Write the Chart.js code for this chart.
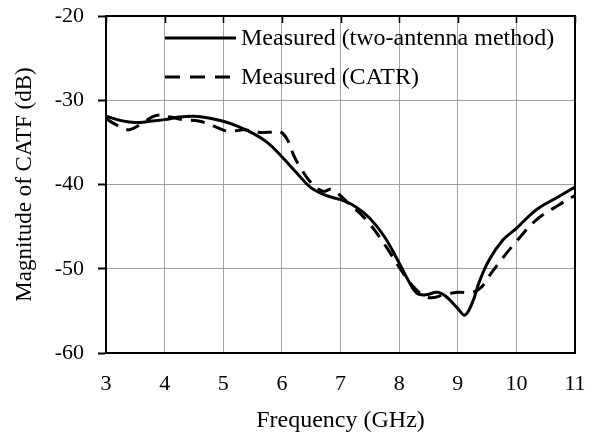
<!DOCTYPE html>
<html>
<head>
<meta charset="utf-8">
<script src="https://cdn.jsdelivr.net/npm/chart.js@4.4.1/dist/chart.umd.min.js"></script>
<style>
  html, body { margin: 0; padding: 0; background: #fff; }
  #wrap { width: 595px; height: 438px; }
</style>
</head>
<body>
<div id="wrap"><canvas id="catfChart" width="595" height="438"></canvas></div>
<script>
// Measured (two-antenna method)
var freqTwoAnt = [3.0, 3.25, 3.5, 3.75, 4.0, 4.25, 4.5, 4.75, 5.0, 5.25, 5.5, 5.75, 6.0, 6.25, 6.5, 6.75, 7.0, 7.25, 7.5, 7.75, 8.0, 8.15, 8.3, 8.45, 8.65, 8.8, 9.0, 9.12, 9.25, 9.37, 9.54, 9.77, 10.0, 10.34, 10.68, 11.0];
var magTwoAnt = [-31.9, -32.4, -32.65, -32.5, -32.3, -32.0, -31.9, -32.1, -32.5, -33.1, -33.9, -35.0, -36.7, -38.6, -40.4, -41.3, -41.8, -42.6, -44.0, -46.2, -49.3, -51.3, -52.9, -53.1, -52.8, -53.3, -54.7, -55.5, -54.0, -51.5, -48.9, -46.6, -45.2, -43.0, -41.6, -40.3];

// Measured (CATR)
var freqCatr = [3.0, 3.2, 3.4, 3.6, 3.85, 4.1, 4.3, 4.6, 4.85, 5.1, 5.35, 5.6, 5.8, 5.96, 6.08, 6.2, 6.3, 6.5, 6.7, 6.85, 7.1, 7.44, 7.78, 8.0, 8.24, 8.45, 8.6, 8.75, 9.0, 9.25, 9.4, 9.51, 9.77, 10.02, 10.34, 10.73, 11.0];
var magCatr = [-32.2, -33.0, -33.5, -32.8, -31.8, -32.0, -32.3, -32.5, -33.1, -33.7, -33.5, -33.8, -33.8, -33.7, -34.5, -36.5, -37.8, -39.8, -40.8, -40.6, -42.0, -44.2, -47.4, -49.8, -52.1, -53.3, -53.4, -53.1, -52.8, -52.8, -52.2, -51.1, -48.7, -46.6, -44.2, -42.4, -41.3];

var xTicks = [3, 4, 5, 6, 7, 8, 9, 10, 11];
var yTicks = [-60, -50, -40, -30, -20];

var FONT = "'Liberation Serif', 'Times New Roman', serif";

function toPoints(xs, ys) {
	var pts = [];
	for (var i = 0; i < xs.length; i++) {
		pts.push({ x: xs[i], y: ys[i] });
	}
	return pts;
}

// frame, top tick marks and the in-plot legend
var framePlugin = {
	id: 'frame',
	afterDraw: function (chart) {
		var c = chart.ctx;
		var a = chart.chartArea;
		var xs = chart.scales.x;
		c.save();
		c.strokeStyle = '#000';
		c.lineWidth = 2;
		c.strokeRect(a.left, a.top, a.right - a.left, a.bottom - a.top);
		c.lineWidth = 1.5;
		for (var i = 0; i < xTicks.length; i++) {
			var px = Math.round(xs.getPixelForValue(xTicks[i])) + 0.5;
			c.beginPath();
			c.moveTo(px, a.top);
			c.lineTo(px, a.top + 7);
			c.stroke();
		}
		// legend
		var rows = [38, 77];
		c.font = '24px ' + FONT;
		c.textBaseline = 'middle';
		c.fillStyle = '#000';
		chart.data.datasets.forEach(function (ds, k) {
			var y = rows[k];
			c.lineWidth = ds.borderWidth;
			c.setLineDash(ds.borderDash ? [15, 10] : []);
			c.beginPath();
			c.moveTo(165, y);
			c.lineTo(236, y);
			c.stroke();
			c.setLineDash([]);
			c.fillText(ds.label, 241, y + 1);
		});
		c.restore();
	}
};

new Chart(document.getElementById('catfChart'), {
	type: 'line',
	data: {
		datasets: [{
			label: 'Measured (two-antenna method)',
			data: toPoints(freqTwoAnt, magTwoAnt),
			borderColor: '#000',
			borderWidth: 3,
			pointRadius: 0,
			tension: 0.4,
			fill: false
		}, {
			label: 'Measured (CATR)',
			data: toPoints(freqCatr, magCatr),
			borderColor: '#000',
			borderWidth: 3,
			borderDash: [14, 9],
			pointRadius: 0,
			tension: 0.4,
			fill: false
		}]
	},
	options: {
		responsive: false,
		animation: false,
		devicePixelRatio: 1,
		layout: { padding: { top: 16, right: 20, left: 0, bottom: 0 } },
		plugins: {
			legend: { display: false },
			tooltip: { enabled: false }
		},
		scales: {
			x: {
				type: 'linear',
				min: 3,
				max: 11,
				afterBuildTicks: function (s) { s.ticks = xTicks.map(function (v) { return { value: v }; }); },
				afterFit: function (s) { s.height = 85; s.paddingLeft = 0; s.paddingRight = 0; },
				grid: { color: '#a0a0a0', lineWidth: 1, drawTicks: false },
				border: { display: true, color: '#000', width: 2 },
				ticks: { color: '#000', padding: 18, font: { family: FONT, size: 22 } },
				title: { display: true, text: 'Frequency (GHz)', color: '#000', padding: { top: 8, bottom: 3 }, font: { family: FONT, size: 24 } }
			},
			y: {
				type: 'linear',
				min: -60,
				max: -20,
				afterBuildTicks: function (s) { s.ticks = yTicks.map(function (v) { return { value: v }; }); },
				afterFit: function (s) { s.width = 106; s.paddingTop = 0; s.paddingBottom = 0; },
				grid: { color: '#a0a0a0', lineWidth: 1, tickColor: '#000', tickLength: 8, tickWidth: 2 },
				border: { display: true, color: '#000', width: 2 },
				ticks: { color: '#000', padding: 14, font: { family: FONT, size: 22 } },
				title: { display: true, text: 'Magnitude of CATF (dB)', color: '#000', padding: { top: 11, bottom: 0 }, font: { family: FONT, size: 23 } }
			}
		}
	},
	plugins: [framePlugin]
});
</script>
</body>
</html>
